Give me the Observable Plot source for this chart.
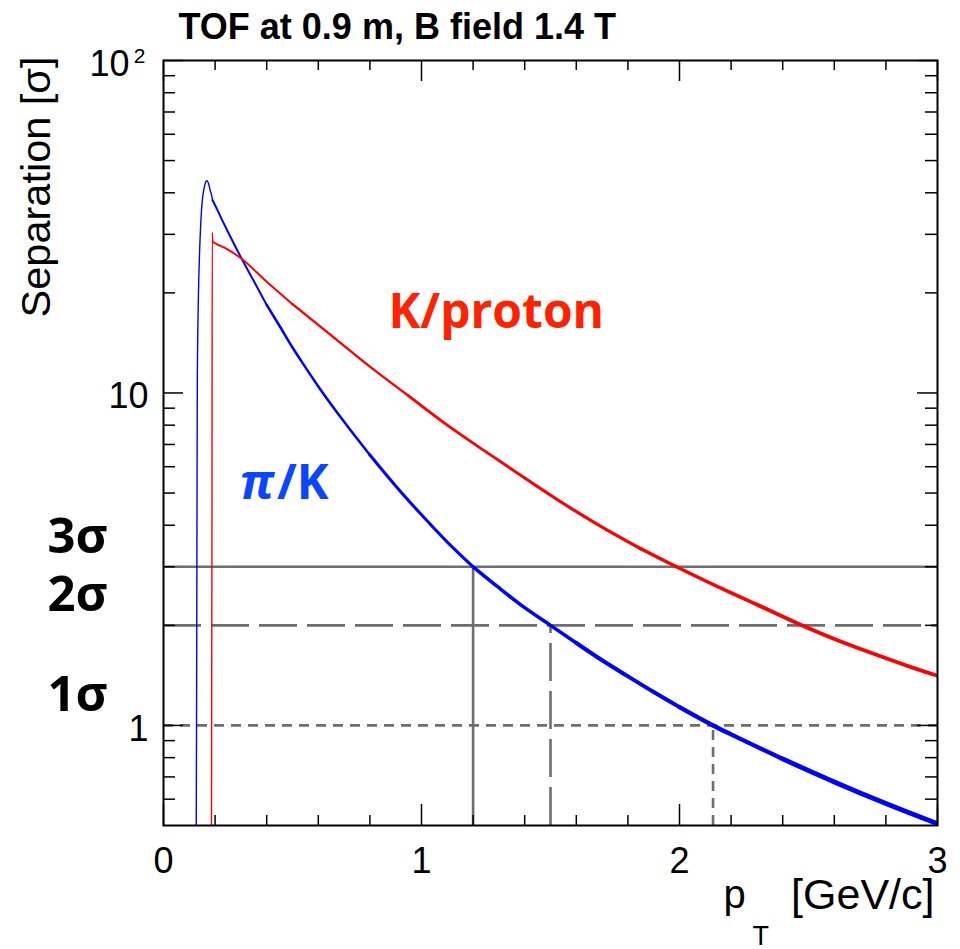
<!DOCTYPE html>
<html><head><meta charset="utf-8">
<script src="https://cdn.jsdelivr.net/npm/d3@7"></script>
<script src="https://cdn.jsdelivr.net/npm/@observablehq/plot@0.6"></script>
<style>body{margin:0;background:#fff}</style>
</head><body><div id="chart"></div>
<script>
// ---- data ----
const piK_pT  = [0.127,0.129,0.131,0.135,0.14,0.145,0.15,0.158,0.165,0.169,0.174,0.182,0.186,0.19,0.2,0.225,0.25,0.3,0.35,0.4,0.45,0.5,0.55,0.6,0.7,0.8,0.9,1.0,1.1,1.2,1.3,1.4,1.5,1.6,1.7,1.8,1.9,2.0,2.13,2.2,2.4,2.6,2.8,3.0];
const piK_sep = [0.5,2,10.6,19,26.7,33,37.7,41.5,43.3,43.5,42.8,40.4,39.5,38,36.7,33.4,30.5,25.6,21.7,18.4,15.9,13.7,11.95,10.46,8.19,6.51,5.25,4.3,3.56,3.0,2.595,2.26,2.0,1.77,1.57,1.405,1.26,1.135,1.0,0.94,0.793,0.676,0.582,0.506];
const Kp_pT   = [0.186,0.188,0.189,0.191,0.2,0.25,0.298,0.4,0.5,0.65,0.8,0.95,1.1,1.25,1.4,1.55,1.7,1.85,2.0,2.15,2.3,2.45,2.6,2.75,2.9,3.0];
const Kp_sep  = [0.5,5,30.4,28.5,28.2,27.0,25.5,21.6,18.5,14.9,12.0,9.8,8.0,6.65,5.55,4.65,3.95,3.4,2.97,2.61,2.31,2.04,1.82,1.645,1.495,1.41];

const sigmaLevels  = [3, 2, 1];
const sigmaLabels  = ["3σ", "2σ", "1σ"];
const sigmaCrossPT = [1.2, 1.5, 2.13];

const xMajorTicks = [0, 1, 2, 3];
const xTickLabels = ["0", "1", "2", "3"];
const xMinorTicks = [0.2,0.4,0.6,0.8,1.2,1.4,1.6,1.8,2.2,2.4,2.6,2.8];
const yMajorTicks = [1, 10, 100];
const yTickBase   = ["1", "10", "10"];
const yTickExp    = ["", "", "2"];
const yMinorTicks = [0.6,0.7,0.8,0.9,2,3,4,5,6,7,8,9,20,30,40,50,60,70,80,90];

const titleText  = "TOF at 0.9 m, B field 1.4 T";
const yTitleText = "Separation [σ]";
const xTitleMain = "p";
const xTitleSub  = "T";
const xTitleUnit = "[GeV/c]";
const labelKp    = "K/proton";
const labelPi    = "π";
const labelPiK   = "/K";

// ---- layout / style ----
const width = 960, height = 949;
const mL = 163, mR = 23, mT = 60, mB = 124;
const FW = width - mL - mR, FH = height - mT - mB;
const ROOTFONT = "'Liberation Sans', Arial, Helvetica, sans-serif";
const ANNFONT = "'Open Sans', 'Noto Sans', sans-serif";
const grey = "#6e6e6e";

const piK = piK_pT.map((p, i) => ({pT: p, sep: piK_sep[i]}));
const Kp  = Kp_pT.map((p, i) => ({pT: p, sep: Kp_sep[i]}));
const band = (rows, a, b) => rows.filter(d => d.pT >= a && d.pT <= b);

const blueBands = [[0,0.19,1.4],[0.19,0.4,2.0],[0.4,0.8,2.5],[0.8,1.2,3.0],[1.2,1.6,3.5],[1.6,2.0,4.0],[2.0,2.4,4.4],[2.4,3.1,4.8]];
const redBands  = [[0,0.191,1.4],[0.191,0.5,2.0],[0.5,0.95,2.4],[0.95,1.4,2.8],[1.4,1.85,3.2],[1.85,2.3,3.5],[2.3,3.1,3.8]];

const curveMarks = [
  ...blueBands.map(([a, b, w]) => Plot.line(band(piK, a, b), {x: "pT", y: "sep", stroke: "#0000ff", strokeWidth: w, strokeLinecap: "round", curve: "monotone-x", clip: true})),
  ...redBands.map(([a, b, w]) => Plot.line(band(Kp, a, b), {x: "pT", y: "sep", stroke: "#ff0000", strokeWidth: w, strokeLinecap: "round", curve: "monotone-x", clip: true}))
];

const dashes = ["none", "38,10", "10,7"];
const refMarks = sigmaLevels.flatMap((s, i) => [
  Plot.ruleY([s], {stroke: grey, strokeWidth: 2.6, strokeDasharray: dashes[i]}),
  Plot.ruleX([sigmaCrossPT[i]], {y1: 0.5, y2: s, stroke: grey, strokeWidth: 2.6, strokeDasharray: dashes[i]})
]);

const tk = {stroke: "black", strokeWidth: 1.5};
const tickMarks = [
  Plot.tickX(xMajorTicks, {x: d => d, insetTop: FH - 21, ...tk}),
  Plot.tickX(xMinorTicks, {x: d => d, insetTop: FH - 10, ...tk}),
  Plot.tickX(xMajorTicks, {x: d => d, insetBottom: FH - 21, ...tk}),
  Plot.tickX(xMinorTicks, {x: d => d, insetBottom: FH - 10, ...tk}),
  Plot.tickY(yMajorTicks, {y: d => d, insetRight: FW - 20, ...tk}),
  Plot.tickY(yMinorTicks, {y: d => d, insetRight: FW - 12, ...tk}),
  Plot.tickY(yMajorTicks, {y: d => d, insetLeft: FW - 20, ...tk}),
  Plot.tickY(yMinorTicks, {y: d => d, insetLeft: FW - 12, ...tk})
];

const yPlain = yMajorTicks.map((v, i) => ({v, base: yTickBase[i], exp: yTickExp[i]}));

const textMarks = [
  Plot.text(xMajorTicks, {x: d => d, text: (d, i) => xTickLabels[i], frameAnchor: "bottom", dy: 47, lineAnchor: "bottom", fontSize: 36, fill: "black"}),
  Plot.text(yPlain.filter(d => !d.exp), {y: "v", text: "base", frameAnchor: "left", dx: -15, dy: 4, textAnchor: "end", fontSize: 36, fill: "black"}),
  Plot.text(yPlain.filter(d => d.exp), {y: "v", text: "base", frameAnchor: "left", dx: -34, dy: 4, textAnchor: "end", fontSize: 36, fill: "black"}),
  Plot.text(yPlain.filter(d => d.exp), {y: "v", text: "exp", frameAnchor: "left", dx: -18, dy: -4, textAnchor: "end", fontSize: 21, fill: "black"}),
  Plot.text([titleText], {frameAnchor: "top-left", dx: 15, dy: -22, lineAnchor: "bottom", textAnchor: "start", fontSize: 36, fontWeight: "bold", fill: "black"}),
  Plot.text([yTitleText], {frameAnchor: "top-left", dx: -114, dy: -4, rotate: -90, textAnchor: "end", lineAnchor: "bottom", fontSize: 41.5, fill: "black"}),
  Plot.text([xTitleMain], {frameAnchor: "bottom-right", dx: -214, dy: 82, textAnchor: "start", lineAnchor: "bottom", fontSize: 40, fill: "black"}),
  Plot.text([xTitleSub], {frameAnchor: "bottom-right", dx: -185, dy: 119, textAnchor: "start", lineAnchor: "bottom", fontSize: 27, fill: "black"}),
  Plot.text([xTitleUnit], {frameAnchor: "bottom-right", dx: -3, dy: 83, textAnchor: "end", lineAnchor: "bottom", fontSize: 43, fill: "black"}),
  Plot.text(sigmaLevels, {y: d => d, text: (d, i) => sigmaLabels[i], frameAnchor: "left", dx: -116, dy: -14, textAnchor: "start", lineAnchor: "bottom", fontSize: 49, fontWeight: "bold", fontFamily: ANNFONT, fill: "black"}),
  Plot.text([labelKp], {x: () => 0.872, y: () => 15.7, textAnchor: "start", lineAnchor: "bottom", fontSize: 48, fontWeight: "bold", fontFamily: ANNFONT, fill: "#ff2200"}),
  Plot.text([labelPi], {x: () => 0.296, y: () => 4.8, textAnchor: "start", lineAnchor: "bottom", fontSize: 48, fontWeight: "bold", fontStyle: "italic", fontFamily: ANNFONT, fill: "#0a46ff"}),
  Plot.text([labelPiK], {x: () => 0.44, y: () => 4.8, textAnchor: "start", lineAnchor: "bottom", fontSize: 48, fontWeight: "bold", fontFamily: ANNFONT, fill: "#0a46ff"})
];

const chart = Plot.plot({
  width, height,
  marginLeft: mL, marginRight: mR, marginTop: mT, marginBottom: mB,
  style: {fontFamily: ROOTFONT, background: "white", overflow: "visible"},
  x: {domain: [0, 3], axis: null},
  y: {type: "log", domain: [0.5, 100], axis: null},
  marks: [
    ...refMarks,
    ...curveMarks,
    ...tickMarks,
    Plot.frame({stroke: "black", strokeWidth: 2}),
    ...textMarks
  ]
});
document.getElementById("chart").appendChild(chart);
</script>
</body></html>
